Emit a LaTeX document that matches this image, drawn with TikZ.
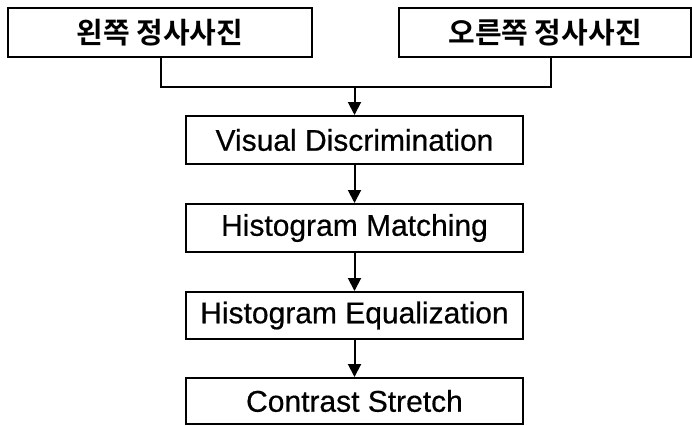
\documentclass[tikz,border=0pt]{standalone}
\usepackage{fontspec}
\setmainfont{Liberation Sans}
\newfontfamily\en{Liberation Sans}[FakeBold=0.5]
\newfontfamily\kr{Noto Sans CJK KR}[BoldFont={* Bold}]
\usetikzlibrary{arrows.meta}
\begin{document}
\begin{tikzpicture}[x=1pt,y=-1pt,
  line width=2pt,
  topbox/.style={draw, rectangle, inner sep=0pt, minimum height=49pt, font=\kr\bfseries\fontsize{29}{31}\selectfont},
  flowbox/.style={draw, rectangle, inner sep=0pt, minimum width=337pt, font=\en\fontsize{30}{32}\selectfont},
  flowarrow/.style={-{Triangle[length=13pt,width=13pt]}}
]
\useasboundingbox (0,0) rectangle (692,425);
\node[topbox, minimum width=304pt] (lbox) at (160,32.5) {왼쪽 정사사진};
\node[topbox, minimum width=292pt] (rbox) at (545,32.5) {오른쪽 정사사진};
\node[flowbox, minimum height=48pt] (vd) at (354.5,140) {Visual Discrimination};
\node[flowbox, minimum height=48pt] (hm) at (354.5,228) {Histogram Matching};
\node[flowbox, minimum height=47pt] (he) at (354.5,315.5) {Histogram Equalization};
\node[flowbox, minimum height=46pt] (cs) at (354.5,401) {Contrast Stretch};
\coordinate (jl) at (161,87);
\coordinate (jr) at (551,87);
\coordinate (jm) at (354.5,87);
\draw (lbox.south -| jl) -- (jl) -- (jr) -- (rbox.south -| jr);
\draw[flowarrow] (jm) -- (vd.north);
\draw[flowarrow] (vd) -- (hm);
\draw[flowarrow] (hm) -- (he);
\draw[flowarrow] (he) -- (cs);
\end{tikzpicture}
\end{document}
